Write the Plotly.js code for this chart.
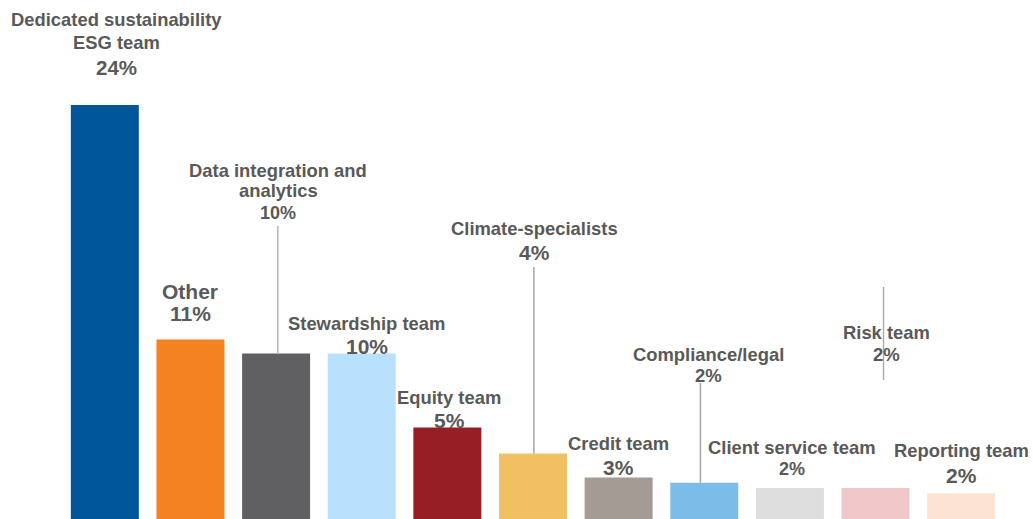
<!DOCTYPE html>
<html>
<head>
<meta charset="utf-8">
<script src="https://cdn.plot.ly/plotly-3.0.1.min.js"></script>
<style>html,body{margin:0;padding:0;background:#fff;}#chart{width:1033px;height:519px;}</style>
</head>
<body>
<div id="chart"></div>
<script>
// ---- data ----
const categories = ["Dedicated sustainability ESG team", "Other", "Data integration and analytics", "Stewardship team", "Equity team", "Climate-specialists", "Credit team", "Compliance/legal", "Client service team", "Risk team", "Reporting team"];
const nameLines = [["Dedicated sustainability", "ESG team"], ["Other"], ["Data integration and", "analytics"], ["Stewardship team"], ["Equity team"], ["Climate-specialists"], ["Credit team"], ["Compliance/legal"], ["Client service team"], ["Risk team"], ["Reporting team"]];
const pctLabels = ["24%", "11%", "10%", "10%", "5%", "4%", "3%", "2%", "2%", "2%", "2%"];
const values = [24, 10.4, 9.6, 9.6, 5.3, 3.8, 2.4, 2.1, 1.8, 1.8, 1.5];
const colors = ["#00569A", "#F58220", "#606062", "#B9E0FD", "#971E24", "#F0C062", "#A49B94", "#7BBCE8", "#DEDEDE", "#F2C7C9", "#FDE4D2"];

// ---- layout helpers ----
const H = 519, PXPERUNIT = 17.25;
const toY = px => (H - px) / PXPERUNIT;
const toPaperY = px => 1 - px / H;
const TXT = "#595959";
const FONT = "Arial, 'Liberation Sans', sans-serif";

// label placement: x shift from bar centre, line centre y (px), sizes
const labelSpec = [
  {dx: 12, ys: [19, 43], py: 67, ns: 18.4, ps: 20.5},
  {dx: 0, ys: [291], py: 313, ns: 21, ps: 21},
  {dx: 2, ys: [170, 190], py: 213, ns: 18.4, ps: 18},
  {dx: 5, ys: [323], py: 346, ns: 18.4, ps: 21},
  {dx: 2, ys: [397], py: 420, ns: 18.4, ps: 21},
  {dx: 1.5, ys: [228], py: 252, ns: 18.4, ps: 21},
  {dx: 0, ys: [443], py: 467, ns: 18.4, ps: 21},
  {dx: 4, ys: [354], py: 375, ns: 18.4, ps: 18.5},
  {dx: 2.5, ys: [447], py: 469, ns: 18.4, ps: 18},
  {dx: 11, ys: [332], py: 354, ns: 18.4, ps: 18.5},
  {dx: 0, ys: [450], py: 475, ns: 18.4, ps: 21}
];

const annotations = [];
categories.forEach((c, i) => {
  const s = labelSpec[i];
  nameLines[i].forEach((t, j) => {
    annotations.push({x: i, xref: 'x', xshift: s.dx, y: toPaperY(s.ys[j]), yref: 'paper',
      text: '<b>' + t + '</b>', showarrow: false, xanchor: 'center', yanchor: 'middle',
      font: {family: FONT, size: s.ns, color: TXT}});
  });
  annotations.push({x: i, xref: 'x', xshift: s.dx, y: toPaperY(s.py), yref: 'paper',
    text: '<b>' + pctLabels[i] + '</b>', showarrow: false, xanchor: 'center', yanchor: 'middle',
    font: {family: FONT, size: s.ps, color: TXT}});
});

// leader lines
const lineCol = "#ADA8A3";
const shapes = [
  {type: 'line', xref: 'x', yref: 'y', x0: 2.02, x1: 2.02, y0: values[2], y1: toY(226), line: {color: "#BDB8B3", width: 1.6}},
  {type: 'line', xref: 'x', yref: 'y', x0: 5.01, x1: 5.01, y0: values[5], y1: toY(267), line: {color: "#AAAAAA", width: 1.6}},
  {type: 'line', xref: 'x', yref: 'y', x0: 6.955, x1: 6.955, y0: values[7], y1: toY(383), line: {color: lineCol, width: 1.6}},
  {type: 'line', xref: 'x', yref: 'y', x0: 9.093, x1: 9.093, y0: toY(380), y1: toY(287), line: {color: lineCol, width: 1.4}}
];

const trace = {
  type: 'bar', x: categories, y: values,
  marker: {color: colors, line: {width: 0}},
  hoverinfo: 'x+y', cliponaxis: false
};

const layout = {
  width: 1033, height: 519,
  margin: {l: 62, r: 29, t: 0, b: 0, pad: 0, autoexpand: false},
  paper_bgcolor: '#fff', plot_bgcolor: '#fff',
  bargap: 0.206, showlegend: false,
  xaxis: {type: 'category', range: [-0.5, 10.5], autorange: false, showticklabels: false, showgrid: false, zeroline: false, showline: false, ticks: '', automargin: false},
  yaxis: {range: [0, H / PXPERUNIT], autorange: false, showticklabels: false, showgrid: false, zeroline: false, showline: false, ticks: '', automargin: false},
  annotations: annotations, shapes: shapes,
  font: {family: FONT}
};

Plotly.newPlot('chart', [trace], layout, {displayModeBar: false, staticPlot: true});
</script>
</body>
</html>
